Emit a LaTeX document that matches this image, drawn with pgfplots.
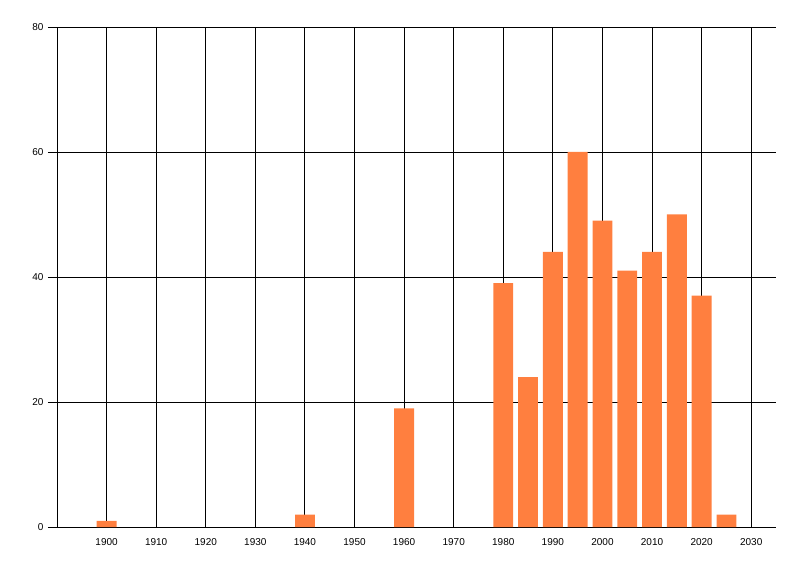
\documentclass[border=0pt]{standalone}
\usepackage{fontspec}
\setmainfont{Liberation Sans}
\usepackage{pgfplots}
\pgfplotsset{compat=1.18}
\definecolor{barorange}{RGB}{255,127,63}
\begin{document}
\begin{tikzpicture}[x=1pt,y=1pt]
\useasboundingbox (-57,-49) rectangle (743,527);
\begin{axis}[
  at={(0,0)}, anchor=south west,
  scale only axis, width=719pt, height=500pt,
  xmin=1890, xmax=2035, ymin=0, ymax=80,
  axis lines=left,
  axis line style={-, black, line width=0.9pt},
  xtick={1900,1910,...,2030},
  ytick={0,20,...,80},
  grid=major,
  major grid style={black, line width=0.9pt},
  xtick style={draw=none},
  ytick style={black, line width=0.9pt},
  tick align=outside,
  major tick length=9pt,
  xticklabel style={yshift=1pt},
  yticklabel style={xshift=-1pt},
  /pgf/number format/1000 sep={},
  /pgf/number format/assume math mode=true,
  tick label style={font=\fontsize{10}{11}\selectfont},
  clip=false,
]
\addplot[ybar, bar width=4, fill=barorange, draw=none] coordinates {
  (1900,1) (1940,2) (1960,19) (1980,39) (1985,24) (1990,44) (1995,60)
  (2000,49) (2005,41) (2010,44) (2015,50) (2020,37) (2025,2)
};
\end{axis}
\end{tikzpicture}
\end{document}
